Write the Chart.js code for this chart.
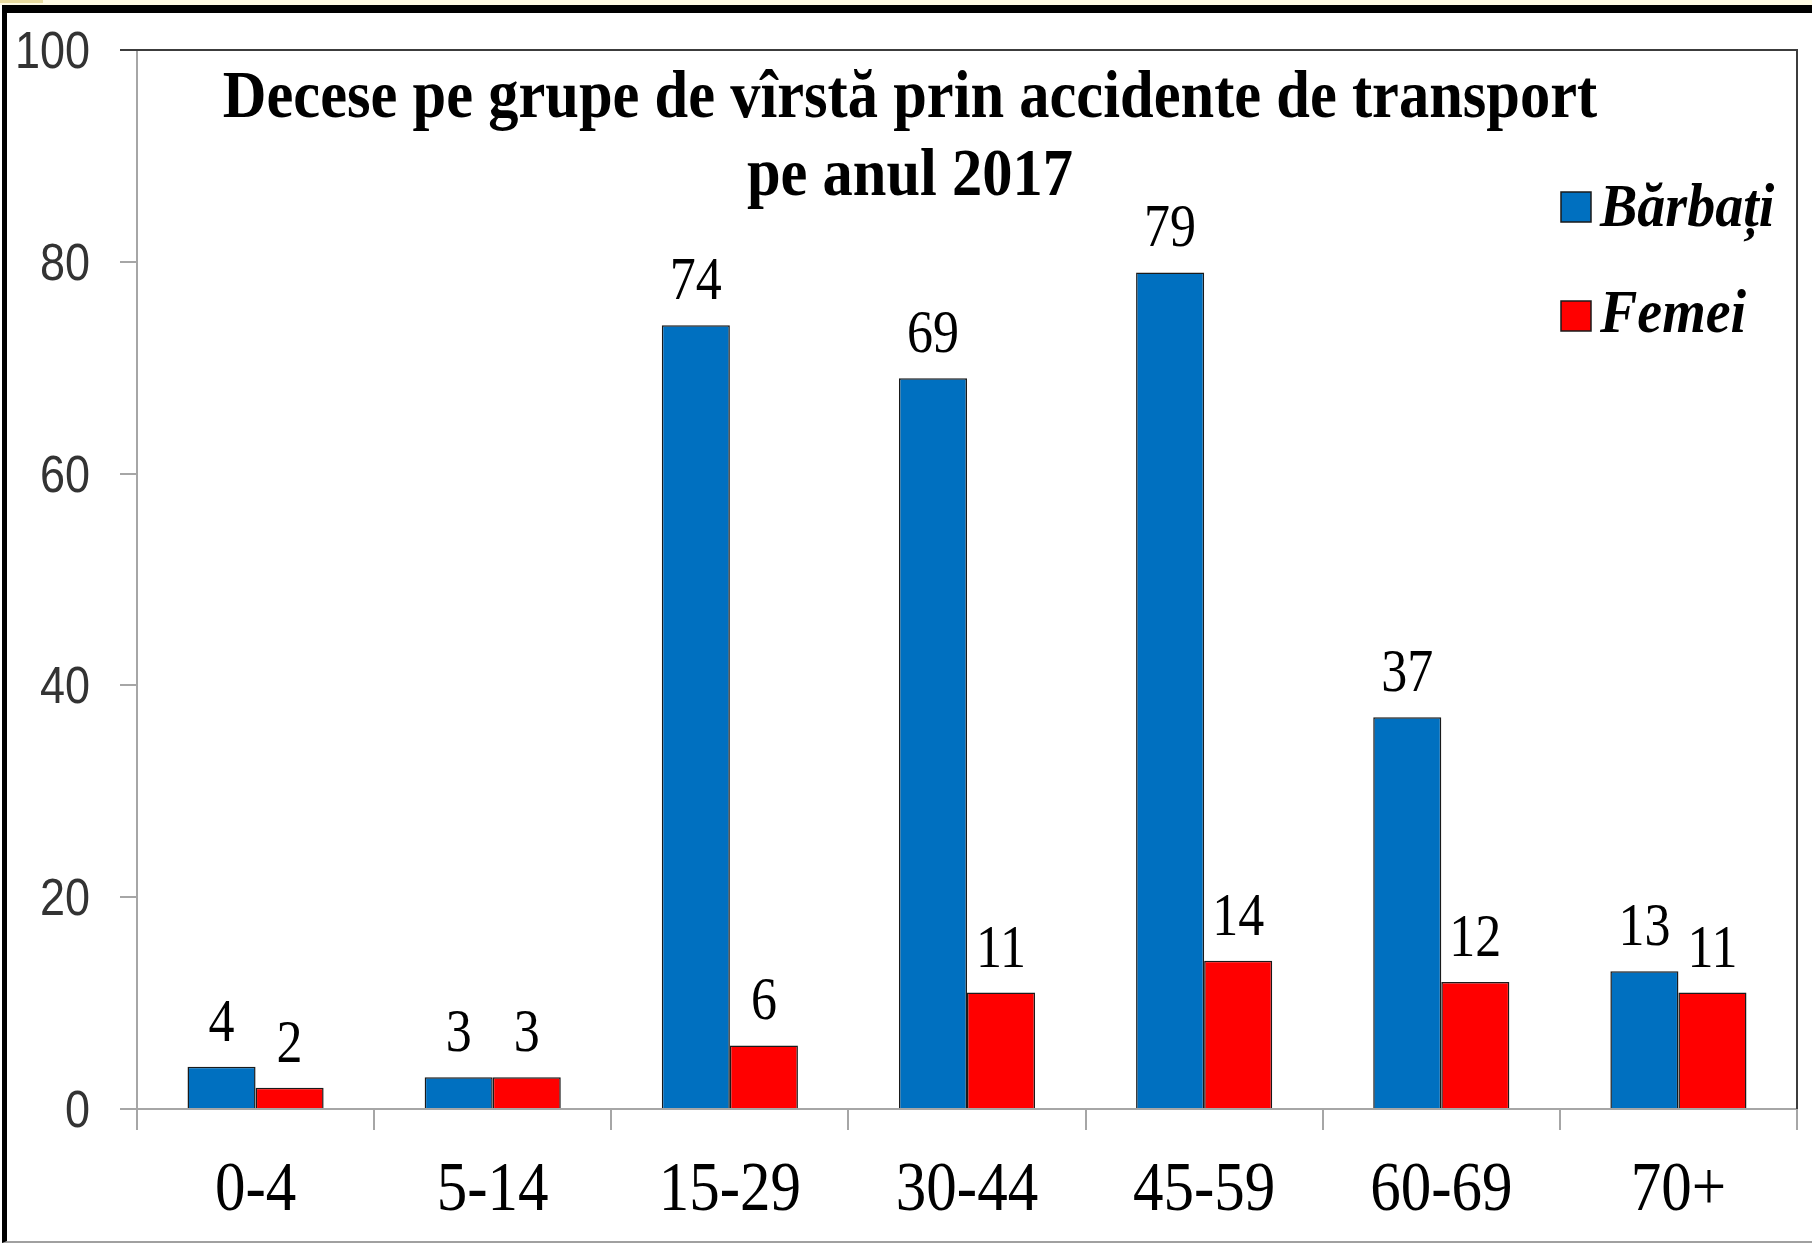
<!DOCTYPE html>
<html>
<head>
<meta charset="utf-8">
<script src="https://cdn.jsdelivr.net/npm/chart.js@4/dist/chart.umd.min.js"></script>
<style>
  html, body { margin: 0; padding: 0; background: #fff; }
  #wrap { position: relative; width: 1812px; height: 1243px; overflow: hidden; }
  #myChart { position: absolute; left: 0; top: 0; }
  #strip { position: absolute; left: 0; top: 0; width: 1812px; height: 5px; background: #fffbe4; }
  #strip2 { position: absolute; left: 0; top: 0; width: 43px; height: 3px; background: #e9dca0; }
  #frame { position: absolute; left: 2px; top: 5px; width: 1810px; height: 1238px; box-sizing: border-box;
           border-top: 8px solid #000; border-left: 5px solid #000; border-bottom: 2px solid #a0a0a0; pointer-events: none; }
</style>
</head>
<body>
<div id="wrap">
  <canvas id="myChart" width="1812" height="1243"></canvas>
  <div id="strip"></div>
  <div id="strip2"></div>
  <div id="frame"></div>
</div>
<script>
// date
var ageGroups = ["0-4", "5-14", "15-29", "30-44", "45-59", "60-69", "70+"];
var barbati = [4, 3, 74, 69, 79, 37, 13];
var femei = [2, 3, 6, 11, 14, 12, 11];
var yTicks = [0, 20, 40, 60, 80, 100];
var seriesNames = ["Bărbați", "Femei"];
var titleLines = ["Decese pe grupe de vîrstă prin accidente de transport", "pe anul 2017"];

var SY = 1.13; // textul din original e putin intins pe verticala

function drawText(ctx, txt, x, y, font, color, align, sy) {
  ctx.save();
  ctx.font = font;
  ctx.fillStyle = color;
  ctx.textAlign = align;
  ctx.textBaseline = "alphabetic";
  ctx.translate(x, y);
  ctx.scale(1, sy);
  ctx.fillText(txt, 0, 0);
  ctx.restore();
}

var textPlugin = {
  id: "textPlugin",
  afterDraw: function(chart) {
    var ctx = chart.ctx;
    var area = chart.chartArea;
    var xs = chart.scales.x, ys = chart.scales.y;

    // chenarul de sus si din dreapta al zonei de plotare
    ctx.save();
    ctx.strokeStyle = "#3c3c3c";
    ctx.lineWidth = 2;
    ctx.beginPath();
    ctx.moveTo(area.left - 17, area.top);
    ctx.lineTo(area.right, area.top);
    ctx.lineTo(area.right, area.bottom);
    ctx.stroke();
    ctx.restore();

    // etichete axa Y
    yTicks.forEach(function(v) {
      var y = ys.getPixelForValue(v);
      drawText(ctx, String(v), area.left - 47, y + 18, "45px 'Liberation Sans'", "#333", "right", 1.15);
    });

    // etichete categorii
    ageGroups.forEach(function(lab, i) {
      var x = xs.getPixelForTick(i);
      drawText(ctx, lab, x, area.bottom + 101, "61px 'Liberation Serif'", "#000", "center", SY);
    });

    // valori deasupra barelor
    chart.data.datasets.forEach(function(ds, di) {
      var meta = chart.getDatasetMeta(di);
      meta.data.forEach(function(bar, i) {
        drawText(ctx, String(ds.data[i]), bar.x, bar.y - 26, "52px 'Liberation Serif'", "#000", "center", 1.16);
      });
    });

    // titlu
    drawText(ctx, titleLines[0], 910, 117, "bold 60.5px 'Liberation Serif'", "#000", "center", SY);
    drawText(ctx, titleLines[1], 910, 195, "bold 60.5px 'Liberation Serif'", "#000", "center", SY);

    // legenda
    var rows = [207, 316];
    chart.data.datasets.forEach(function(ds, di) {
      var cy = rows[di];
      ctx.save();
      ctx.fillStyle = ds.backgroundColor;
      ctx.strokeStyle = "#1a1a1a";
      ctx.lineWidth = 1.5;
      ctx.fillRect(1561, cy - 15, 30, 30);
      ctx.strokeRect(1561, cy - 15, 30, 30);
      ctx.restore();
      drawText(ctx, ds.label, 1600, cy + (di === 0 ? 19 : 16), "italic bold 56px 'Liberation Serif'", "#000", "left", 1.08);
    });
  }
};

var ctx = document.getElementById("myChart");
var myChart = new Chart(ctx, {
  type: "bar",
  data: {
    labels: ageGroups,
    datasets: [
      {
        label: seriesNames[0],
        data: barbati,
        backgroundColor: "#0070C0",
        borderColor: "#1a1a1a",
        borderWidth: 1.5,
        categoryPercentage: 0.574,
        barPercentage: 1.0
      },
      {
        label: seriesNames[1],
        data: femei,
        backgroundColor: "#FF0000",
        borderColor: "#1a1a1a",
        borderWidth: 1.5,
        categoryPercentage: 0.574,
        barPercentage: 1.0
      }
    ]
  },
  options: {
    responsive: false,
    animation: false,
    devicePixelRatio: 1,
    layout: { padding: { left: 0, right: 15, top: 50, bottom: 0 } },
    plugins: {
      legend: { display: false },
      title: { display: false },
      tooltip: { enabled: false }
    },
    scales: {
      x: {
        afterFit: function(scale) { scale.height = 134; },
        ticks: { display: false },
        grid: { offset: true, drawOnChartArea: false, drawTicks: true, tickLength: 21, color: "#a6a6a6", lineWidth: 2 },
        border: { display: true, color: "#a6a6a6", width: 2 }
      },
      y: {
        min: yTicks[0],
        max: yTicks[yTicks.length - 1],
        afterFit: function(scale) { scale.width = 137; },
        ticks: { display: false, stepSize: yTicks[1] - yTicks[0] },
        grid: { drawOnChartArea: false, drawTicks: true, tickLength: 17, color: "#a6a6a6", lineWidth: 2 },
        border: { display: true, color: "#a6a6a6", width: 2 }
      }
    }
  },
  plugins: [textPlugin]
});
</script>
</body>
</html>
